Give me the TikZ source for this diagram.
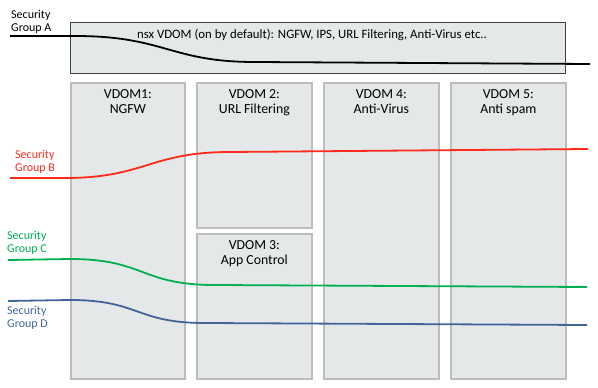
\documentclass[tikz,border=0pt]{standalone}
\usepackage{fontspec}
\setmainfont{Carlito}
\usetikzlibrary{positioning}
\definecolor{BoxFill}{HTML}{E4E8E9}
\definecolor{BoxEdge}{HTML}{BDBDBD}
\definecolor{TopEdge}{HTML}{404040}
\definecolor{GrpRed}{HTML}{FF2A1A}
\definecolor{GrpGreen}{HTML}{00B050}
\definecolor{GrpBlue}{HTML}{41659A}

\begin{document}
\begin{tikzpicture}[
  x=1pt, y=-1pt,
  col/.style={
    draw=BoxEdge,
    fill=BoxFill,
    line width=1.8pt,
    anchor=north west,
    inner sep=0pt
  },
  title/.style={
    align=center,
    font=\fontsize{13.8}{15.5}\selectfont,
    anchor=north
  },
  grp/.style={
    align=left,
    font=\fontsize{12}{13.5}\selectfont,
    anchor=west,
    inner sep=1pt
  },
  flow/.style={line width=1.8pt}
]
\useasboundingbox (0,0) rectangle (598,388);

% top VDOM
\node[col, draw=TopEdge, line width=1.4pt, minimum width=495, minimum height=51] (nsx) at (70,22) {};
\node[title, font=\fontsize{12.8}{15}\selectfont] (nsxt) at (312,26) {nsx VDOM (on by default): NGFW, IPS, URL Filtering, Anti-Virus etc..};

% columns
\node[col, minimum width=114, minimum height=296] (v1) at (70,82) {};
\node[col, minimum width=115, minimum height=145] (v2) at (196,82) {};
\node[col, minimum width=115, minimum height=145] (v3) at (196,233) {};
\node[col, minimum width=115, minimum height=296] (v4) at (323,82) {};
\node[col, minimum width=115, minimum height=296] (v5) at (450,82) {};

\node[title, below=4pt of v1.north] (t1) {VDOM1:\\NGFW};
\node[title, below=4pt of v2.north] (t2) {VDOM 2:\\URL Filtering};
\node[title, below=4pt of v3.north] (t3) {VDOM 3:\\App Control};
\node[title, below=4pt of v4.north] (t4) {VDOM 4:\\Anti-Virus};
\node[title, below=4pt of v5.north] (t5) {VDOM 5:\\Anti spam};

% security groups
\node[grp] (ga) at (10,22) {Security\\Group A};
\node[grp, text=GrpRed] (gb) at (14,162) {Security\\Group B};
\node[grp, text=GrpGreen] (gc) at (6,243) {Security\\Group C};
\node[grp, text=GrpBlue] (gd) at (6,318) {Security\\Group D};

\coordinate (a0) at (10,36);  \coordinate (a1) at (75,36);
\coordinate (a2) at (255,62); \coordinate (a3) at (590,64);
\coordinate (b0) at (10,178); \coordinate (b1) at (65,178);
\coordinate (b2) at (230,152); \coordinate (b3) at (588,149);
\coordinate (c0) at (8,260);  \coordinate (c1) at (70,259);
\coordinate (c2) at (215,285); \coordinate (c3) at (587,287);
\coordinate (d0) at (8,301);  \coordinate (d1) at (70,300);
\coordinate (d2) at (205,323); \coordinate (d3) at (587,325);

\draw[flow, black] (a0) -- (a1) .. controls (165,36) and (170,62) .. (a2) -- (a3);
\draw[flow, GrpRed] (b0) -- (b1) .. controls (145,178) and (150,152) .. (b2) -- (b3);
\draw[flow, GrpGreen] (c0) -- (c1) .. controls (145,259) and (140,285) .. (c2) -- (c3);
\draw[flow, GrpBlue] (d0) -- (d1) .. controls (140,300) and (135,323) .. (d2) -- (d3);
\end{tikzpicture}
\end{document}
